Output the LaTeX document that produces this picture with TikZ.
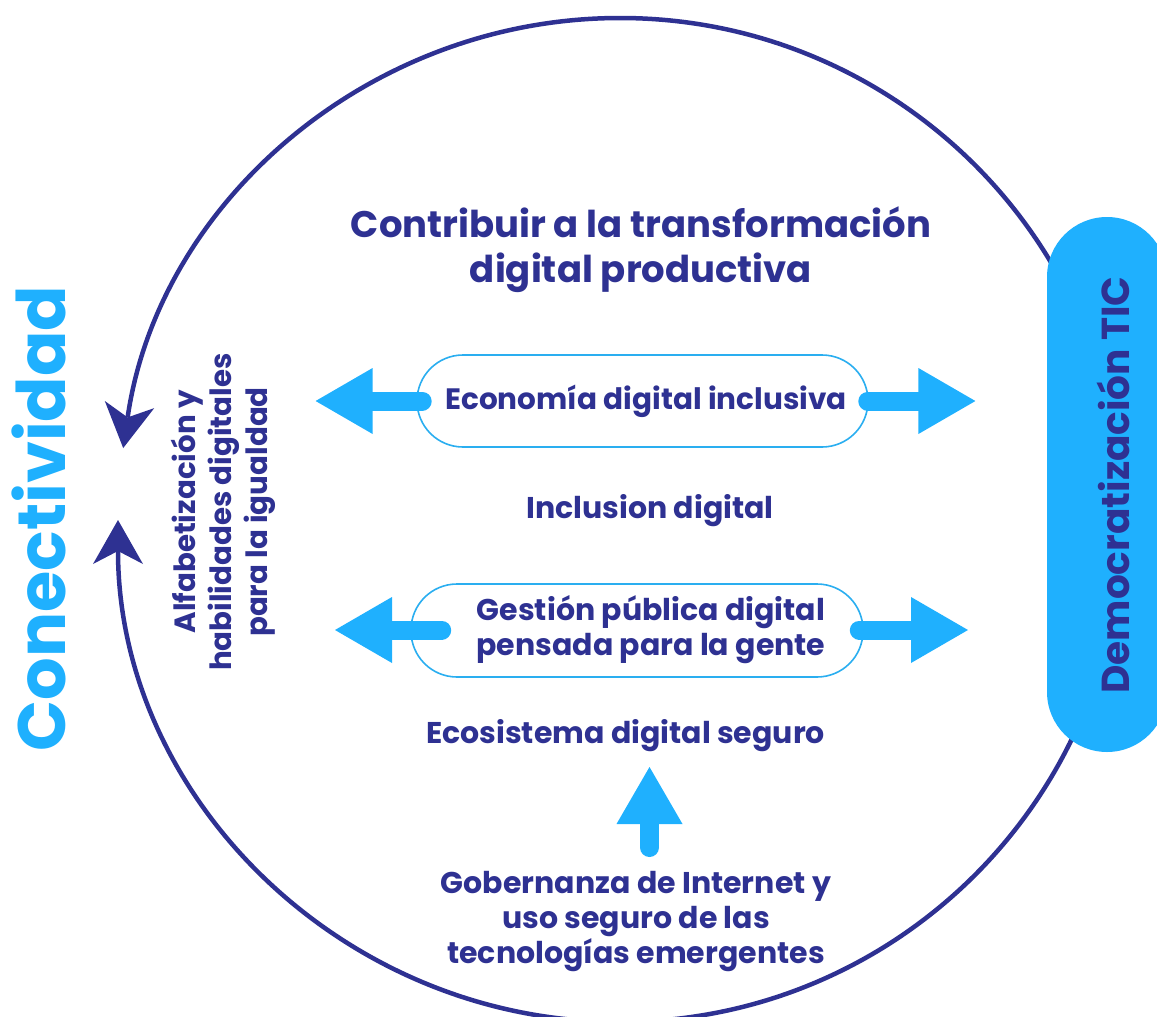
\documentclass[tikz,border=0pt]{standalone}
\usepackage{fontspec}
\setmainfont{Poppins}
\usetikzlibrary{arrows.meta,calc}
\definecolor{navy}{HTML}{2E3192}
\definecolor{sky}{HTML}{1FB0FE}
\definecolor{skyline}{HTML}{2AAEF0}
\begin{document}
\begin{tikzpicture}[x=1pt,y=-1pt,
  txt/.style={font=\bfseries\fontsize{30}{35}\selectfont, text=navy, inner sep=0pt, align=center},
  pill/.style={draw=skyline, line width=1.6pt, fill=white, rounded corners=46pt, inner sep=0pt},
  blockarrow/.style={draw=sky, line width=19pt, line cap=round,
    -{Triangle[length=57pt,width=66pt,line width=0pt]}},
  ring/.style={draw=navy, line width=4.5pt,
    -{Stealth[length=44pt,width=50pt,inset=13pt,line width=0pt]}}
]
\useasboundingbox (0,0) rectangle (1157,1017);
\clip (0,0) rectangle (1157,1017);

% ring
\coordinate (ctr) at (620,520);
\draw[ring] ($(ctr)+(502,0)$) arc[start angle=0, end angle=-171.76, radius=502];
\draw[ring] ($(ctr)+(502,0)$) arc[start angle=0, end angle=180, radius=502];

% TIC pill
\node[fill=sky, rounded corners=60pt, minimum width=120pt, minimum height=535pt, inner sep=0pt] (ticpill) at (1107,484.5) {};
\node[rotate=90, anchor=base, inner sep=0pt, text=navy, font=\bfseries\fontsize{39}{46}\selectfont] (tic) at (1129,485) {Democratización TIC};

% Conectividad
\node[rotate=90, anchor=base, inner sep=0pt, text=sky, font=\bfseries\fontsize{67}{76}\selectfont] (con) at (65,518.5) {Conectividad};

% Title
\node[txt, font=\bfseries\fontsize{37}{45}\selectfont] (title) at (641,250) {Contribuir a la transformación\\digital productiva};

% Alfabetización
\node[txt, rotate=90, font=\bfseries\fontsize{29.3}{36}\selectfont] (alfa) at (223,512) {Alfabetización y\\habilidades digitales\\para la igualdad};

% pills
\node[pill, minimum width=451pt, minimum height=92pt] (eco) at (642.5,401) {};
\node[txt, font=\bfseries\fontsize{29.5}{35}\selectfont] (ecotext) at (646,401) {Economía digital inclusiva};
\node[pill, minimum width=452pt, minimum height=93pt] (gest) at (637,630.5) {};
\node[txt] (gesttext) at (651,630) {Gestión pública digital\\pensada para la gente};

\node[txt, anchor=base] (incl) at (650,518) {Inclusion digital};
\node[txt, anchor=base] (ecos) at (625.5,743) {Ecosistema digital seguro};
\node[txt, font=\bfseries\fontsize{30}{35}\selectfont] (gob) at (636,922) {Gobernanza de Internet y\\uso seguro de las\\tecnologías emergentes};

% block arrows
\coordinate (ecoL) at (315.6,401);
\coordinate (ecoR) at (975.4,401);
\coordinate (gestL) at (335,630);
\coordinate (gestR) at (968,630);
\coordinate (upTip) at (649.5,767);
\coordinate (upStart) at (649.5,847.5);
\draw[blockarrow] ([xshift=6pt]eco.west) -- (ecoL);
\draw[blockarrow] ([xshift=-1pt]eco.east) -- (ecoR);
\draw[blockarrow] ([xshift=31.5pt]gest.west |- gestL) -- (gestL);
\draw[blockarrow] ([xshift=-4.5pt]gest.east |- gestR) -- (gestR);
\draw[blockarrow] (upStart) -- (upTip);
\end{tikzpicture}
\end{document}
